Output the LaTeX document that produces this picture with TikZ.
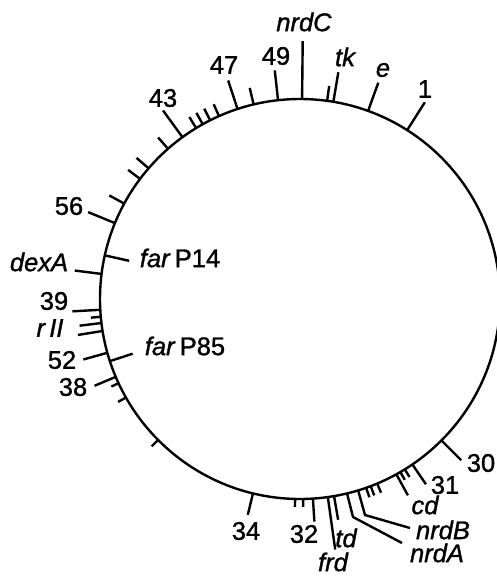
\documentclass[tikz,border=0pt]{standalone}
\usepackage{fontspec}
\setmainfont{Liberation Sans}[FakeBold=1.2]
\newcommand\gtick[2]{\draw (C) ++(#1:200) -- ++(#1:#2);}
\begin{document}
\begin{tikzpicture}[x=1pt,y=-1pt,line width=2.4pt,
  lbl/.style={inner sep=0pt,font=\fontsize{25.5}{30}\selectfont},
  glbl/.style={inner sep=0pt,font=\fontsize{25.5}{30}\selectfont\itshape}]
\useasboundingbox (0,0) rectangle (497,576);
\coordinate (C) at (300,299);
\draw (C) circle[radius=200];
% ticks
\gtick{-57.6}{33}
\gtick{-70.1}{30}
\gtick{-82.2}{15}
\gtick{-80.4}{30}
\gtick{-89.4}{58}
\gtick{-96.3}{30}
\gtick{-103.4}{17}
\gtick{-108.2}{30}
\gtick{-113.9}{13}
\gtick{-116.7}{13}
\gtick{-119.1}{13}
\gtick{-121.3}{13}
\gtick{-126.0}{33}
\gtick{-131.3}{15}
\gtick{-139.2}{16}
\gtick{-143.1}{15}
\gtick{-151.5}{17}
\gtick{-157.7}{29}
\gtick{-167.4}{-25}
\gtick{-172.8}{27}
\gtick{176.9}{28}
\gtick{174.9}{10}
\gtick{173.1}{22}
\gtick{170.8}{25}
\gtick{164.4}{25}
\gtick{161.9}{-24}
\gtick{157.1}{23}
\gtick{155.1}{8}
\gtick{150.5}{9}
\gtick{135.2}{9}
\gtick{103.6}{22}
\gtick{91.4}{8}
\gtick{89.1}{8}
\gtick{86.3}{23}
\gtick{82.0}{53}
\gtick{80.2}{24}
\gtick{70.7}{10}
\gtick{69.3}{10}
\gtick{67.3}{10}
\gtick{61.2}{24}
\gtick{59.9}{9}
\gtick{58.4}{9}
\gtick{55.8}{24}
\gtick{45.0}{28}
% labels
\node[lbl] (n1) at (425,89) {1};
\node[glbl] (ne) at (383,70) {e};
\node[glbl] (ntk) at (345,57) {tk};
\node[glbl] (nnrdC) at (304,22) {nrdC};
\node[lbl] (n49) at (276,56) {49};
\node[lbl] (n47) at (224,65) {47};
\node[lbl] (n43) at (163,98) {43};
\node[lbl] (n56) at (69,206) {56};
\node[lbl] (nP14) at (180,258) {\textit{far}\,P14};
\node[glbl] (ndexA) at (39,262) {dexA};
\node[lbl] (n39) at (54,301) {39};
\node[glbl] (nrII) at (50,328) {r\,II};
\node[lbl] (n52) at (62,360) {52};
\node[lbl] (nP85) at (185,346) {\textit{far}\,P85};
\node[lbl] (n38) at (73,387) {38};
\node[lbl] (n34) at (246,531) {34};
\node[lbl] (n32) at (304,534) {32};
\node[glbl] (nfrd) at (333,562) {frd};
\node[glbl] (ntd) at (346,538) {td};
\node[glbl] (nnrdB) at (443,530) {nrdB};
\node[glbl] (nnrdA) at (437,553) {nrdA};
\node[glbl] (ncd) at (425,505) {cd};
\node[lbl] (n31) at (445,485) {31};
\node[lbl] (n30) at (481,463) {30};
% leaders
\coordinate (bA) at (353,517);
\coordinate (eA) at (402,543);
\coordinate (bB) at (365,515);
\coordinate (eB) at (410,528);
\draw (C) ++(76.4:200) -- (bA) -- (eA);
\draw (C) ++(73.1:200) -- (bB) -- (eB);
\end{tikzpicture}
\end{document}
